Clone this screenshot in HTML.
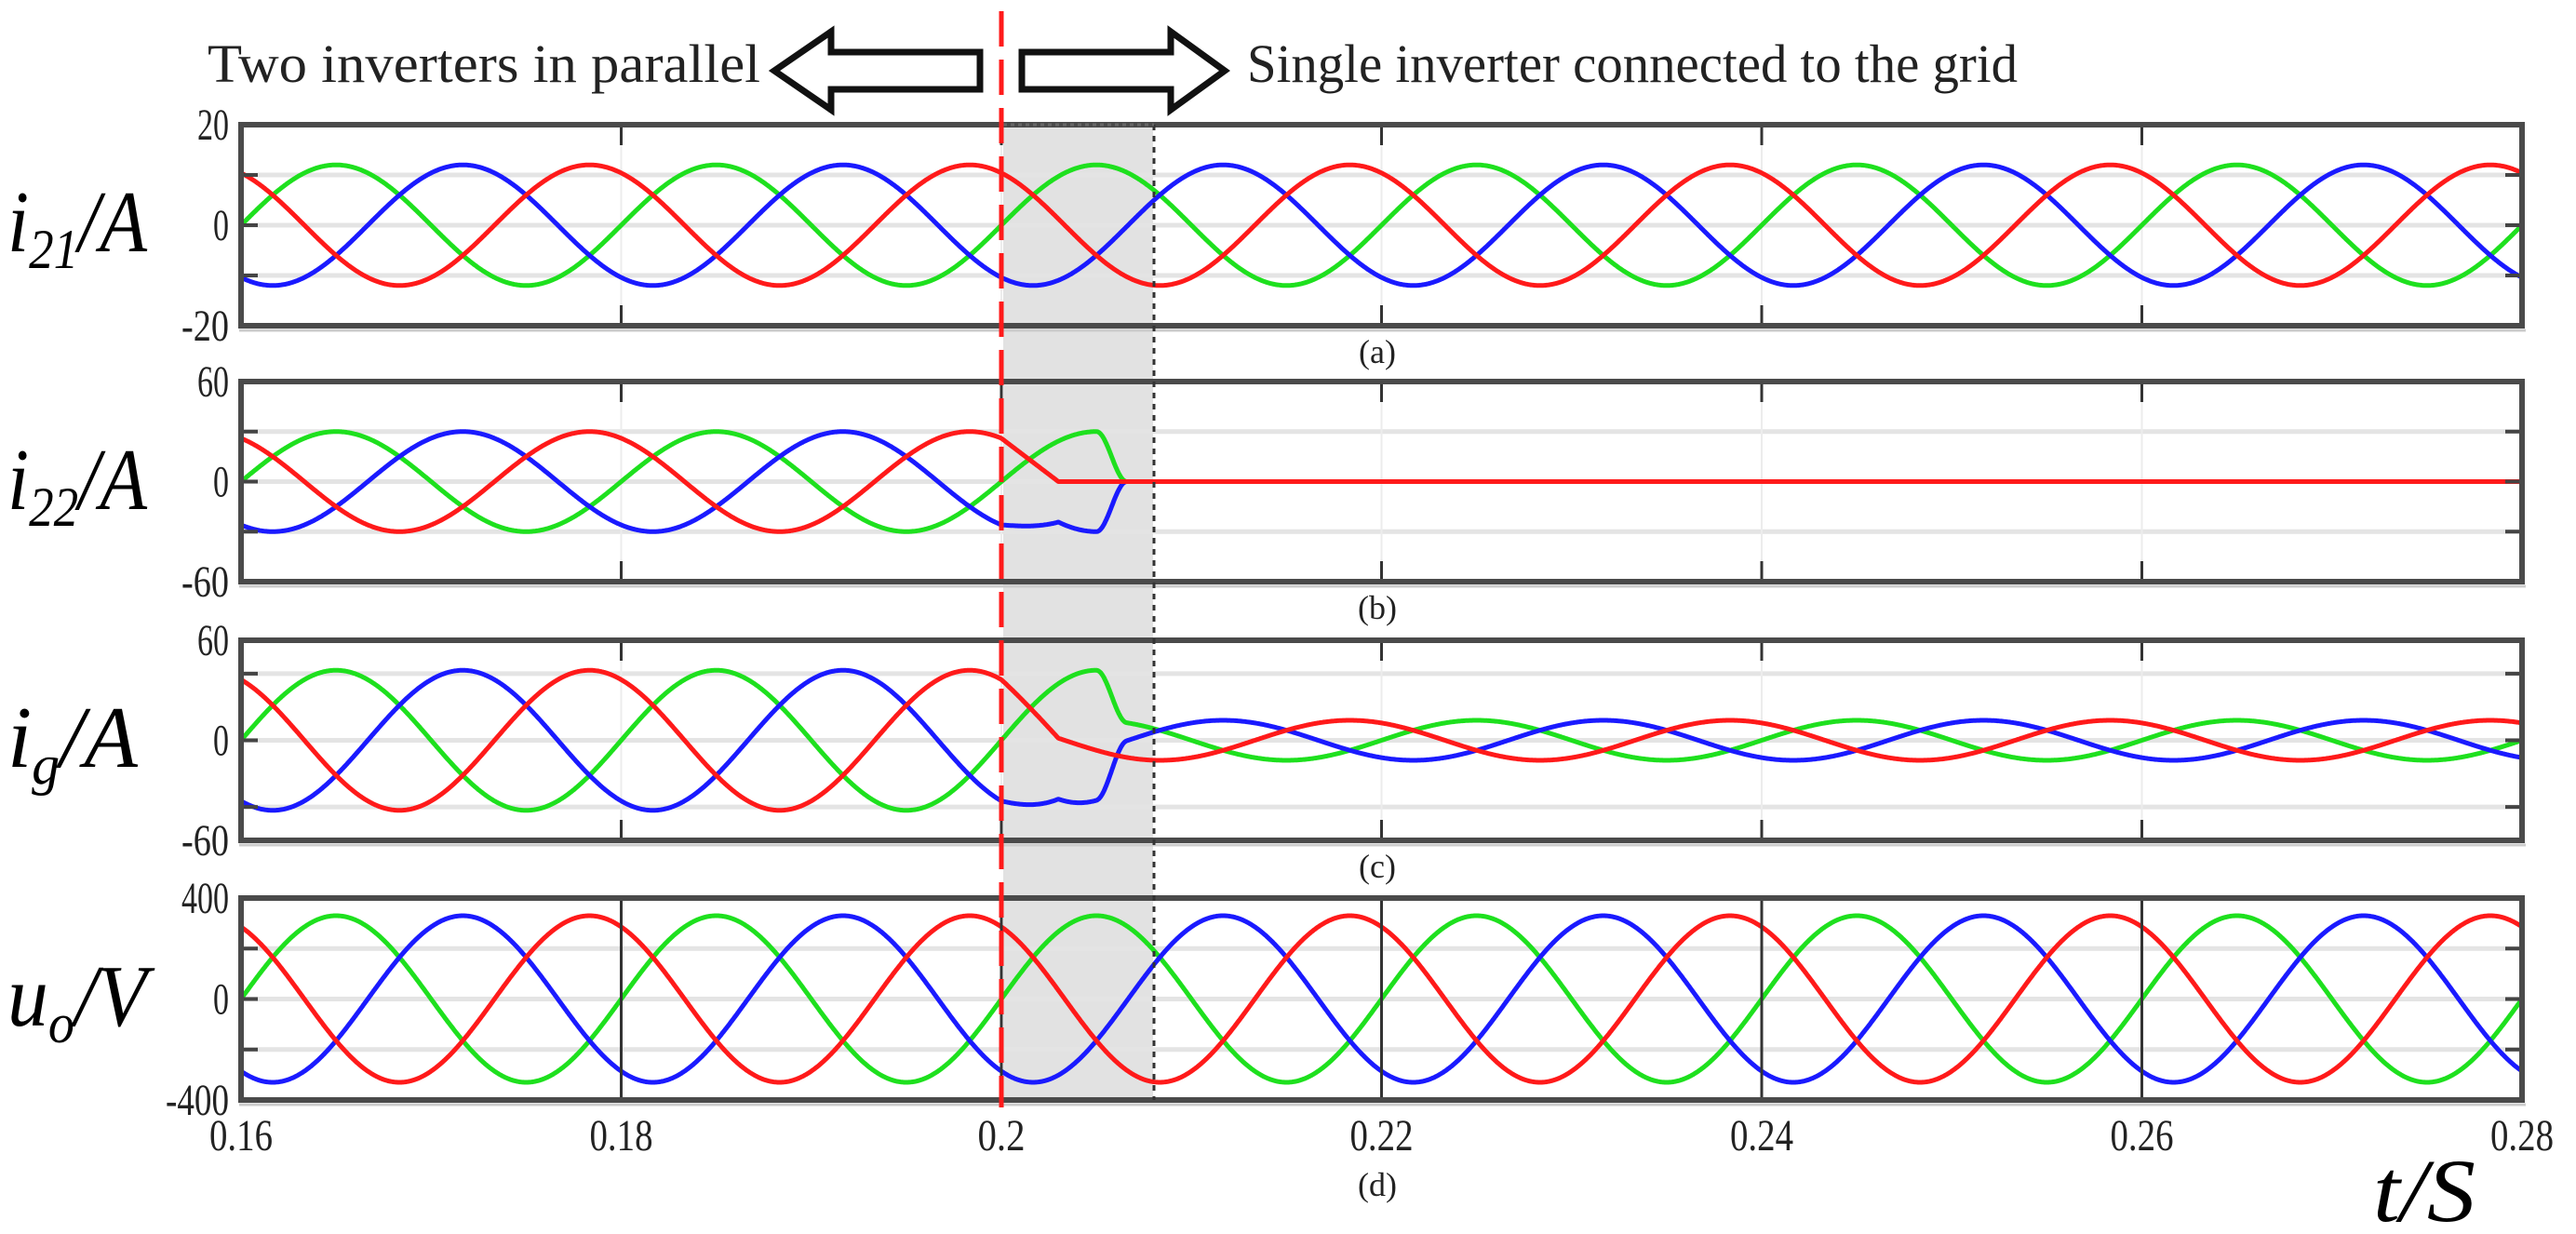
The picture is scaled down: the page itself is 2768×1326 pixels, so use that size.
<!DOCTYPE html>
<html><head><meta charset="utf-8"><style>
html,body{margin:0;padding:0;background:#fff;}
svg{display:block}
.t{font-family:"Liberation Serif",serif;fill:#222}
.big{font-family:"Liberation Serif",serif;font-style:italic;fill:#000}
</style></head><body>
<svg id="s" width="2768" height="1326" viewBox="0 0 2768 1326" xmlns="http://www.w3.org/2000/svg">
<rect width="2768" height="1326" fill="#fff"/>
<g id="bg"></g>
<rect x="1078" y="134" width="161" height="1048" fill="#e2e2e2"/>
<g id="grid"></g>
<g id="curves" fill="none" stroke-width="5" stroke-linejoin="round"></g>
<g id="frames"></g>
<line x1="1240" y1="134" x2="1240" y2="1182" stroke="#333" stroke-width="3" stroke-dasharray="6,6"/>
<line x1="1078" y1="134" x2="1240" y2="134" stroke="#666" stroke-width="3" stroke-dasharray="4,4"/>
<line x1="1076" y1="12" x2="1076" y2="1190" stroke="#ff1a1a" stroke-width="5" stroke-dasharray="38,14"/>

<text class="t" x="223" y="88" font-size="58" textLength="594" lengthAdjust="spacingAndGlyphs">Two inverters in parallel</text>
<path d="M832,76 L893,34 L893,56 L1053,56 L1053,96 L893,96 L893,118 Z" fill="#fff" stroke="#111" stroke-width="7" stroke-linejoin="miter"/>
<path d="M1316,76 L1258,34 L1258,56 L1098,56 L1098,96 L1258,96 L1258,118 Z" fill="#fff" stroke="#111" stroke-width="7" stroke-linejoin="miter"/>
<text class="t" x="1340" y="88" font-size="58" textLength="828" lengthAdjust="spacingAndGlyphs">Single inverter connected to the grid</text>

<text class="big" x="8" y="270" font-size="94" textLength="150" lengthAdjust="spacingAndGlyphs">i<tspan font-size="60" dy="18">21</tspan><tspan dy="-18">/A</tspan></text>
<text class="big" x="8" y="547" font-size="94" textLength="150" lengthAdjust="spacingAndGlyphs">i<tspan font-size="60" dy="18">22</tspan><tspan dy="-18">/A</tspan></text>
<text class="big" x="8" y="824" font-size="94" textLength="140" lengthAdjust="spacingAndGlyphs">i<tspan font-size="60" dy="18">g</tspan><tspan dy="-18">/A</tspan></text>
<text class="big" x="8" y="1102" font-size="94" textLength="150" lengthAdjust="spacingAndGlyphs">u<tspan font-size="60" dy="18">o</tspan><tspan dy="-18">/V</tspan></text>

<text class="big" x="2550" y="1312" font-size="96" textLength="110" lengthAdjust="spacingAndGlyphs">t/S</text>
<g id="labels"></g>
</svg>
<script>
(function(){
var NS="http://www.w3.org/2000/svg";
function el(p,n,a,txt){var e=document.createElementNS(NS,n);for(var k in a)e.setAttribute(k,a[k]);if(txt!==undefined)e.textContent=txt;document.getElementById(p).appendChild(e);return e;}
var L=259,R=2710;
function X(t){return L+(t-0.16)/0.12*(R-L);}
var W=2*Math.PI/0.02;
function ph(t,k){return Math.sin(W*(t-0.16)+k*2*Math.PI/3);}
function i21(t,k){return 12*ph(t,k);}
function i22(t,k){
 if(t<0.2)return 30*ph(t,k);
 var r,g;
 r = t<0.203 ? 30*ph(0.2,1)*(1-(t-0.2)/0.003) : 0;
 if(t<0.205) g=30*ph(t,0); else if(t<0.2066) g=15*(1+Math.cos(Math.PI*(t-0.205)/0.0016)); else g=0;
 if(k==1)return r; if(k==0)return g; return -(r+g);
}
function ig(t,k){return i21(t,k)+i22(t,k);}
function uo(t,k){return 330*ph(t,k);}
var P=[
 {top:134,bot:350,max:20,f:i21,lab:["20","0","-20"],g:[10,0,-10],cap:"(a)"},
 {top:410,bot:625,max:60,f:i22,lab:["60","0","-60"],g:[30,0,-30],cap:"(b)"},
 {top:688,bot:903,max:60,f:ig,lab:["60","0","-60"],g:[40,0,-40],cap:"(c)"},
 {top:965,bot:1182,max:400,f:uo,lab:["400","0","-400"],g:[200,0,-200],cap:"(d)"}
];
var ticks=[0.16,0.18,0.2,0.22,0.24,0.26,0.28];
P.forEach(function(p,pi){
 var mid=(p.top+p.bot)/2,h=(p.bot-p.top)/2;
 function Y(v){return mid-v/p.max*h;}
 p.g.forEach(function(v){
  el("grid","line",{x1:L,x2:R,y1:Y(v),y2:Y(v),stroke:"#e4e4e4","stroke-width":5});
  el("frames","line",{x1:L,x2:L+18,y1:Y(v),y2:Y(v),stroke:"#444","stroke-width":4});
  el("frames","line",{x1:R-18,x2:R,y1:Y(v),y2:Y(v),stroke:"#444","stroke-width":4});
 });
 ticks.slice(1,6).forEach(function(t){
  var x=X(t);
  if(pi==3){el("frames","line",{x1:x,x2:x,y1:p.top,y2:p.bot,stroke:"#333","stroke-width":3});}
  else{
   el("grid","line",{x1:x,x2:x,y1:p.top,y2:p.bot,stroke:"#ececec","stroke-width":2});
   el("frames","line",{x1:x,x2:x,y1:p.top,y2:p.top+22,stroke:"#333","stroke-width":3});
   el("frames","line",{x1:x,x2:x,y1:p.bot-22,y2:p.bot,stroke:"#333","stroke-width":3});
  }
 });
 [[0,"#1ee01e"],[-1,"#1a1aff"],[1,"#ff1a1a"]].forEach(function(c){
  var d="";
  for(var i=0;i<=2900;i++){var t=0.16+0.12*i/2900;d+=(i?"L":"M")+X(t).toFixed(1)+","+Y(p.f(t,c[0])).toFixed(1);}
  el("curves","path",{d:d,stroke:c[1]});
 });
 el("frames","rect",{x:L,y:p.top,width:R-L,height:p.bot-p.top,fill:"none",stroke:"#4a4a4a","stroke-width":6});
 el("frames","line",{x1:L-2,x2:R+4,y1:p.bot+5,y2:p.bot+5,stroke:"#ccc","stroke-width":3});
 var ys=[p.top+16,mid+16,p.bot+16];
 p.lab.forEach(function(s,j){el("labels","text",{"class":"t",x:246,y:ys[j],"font-size":48,"text-anchor":"end",textLength:s.length*17,lengthAdjust:"spacingAndGlyphs"},s);});
 var cy = pi==3 ? 1285 : p.bot+40;
 el("labels","text",{"class":"t",x:1480,y:cy,"font-size":36,"text-anchor":"middle"},p.cap);
});
ticks.forEach(function(t){
 var s=t.toFixed(2);if(t==0.2)s="0.2";
 el("labels","text",{"class":"t",x:X(t),y:1236,"font-size":48,"text-anchor":"middle",textLength:s.length*17,lengthAdjust:"spacingAndGlyphs"},s);
});
})();
</script>
</body></html>
